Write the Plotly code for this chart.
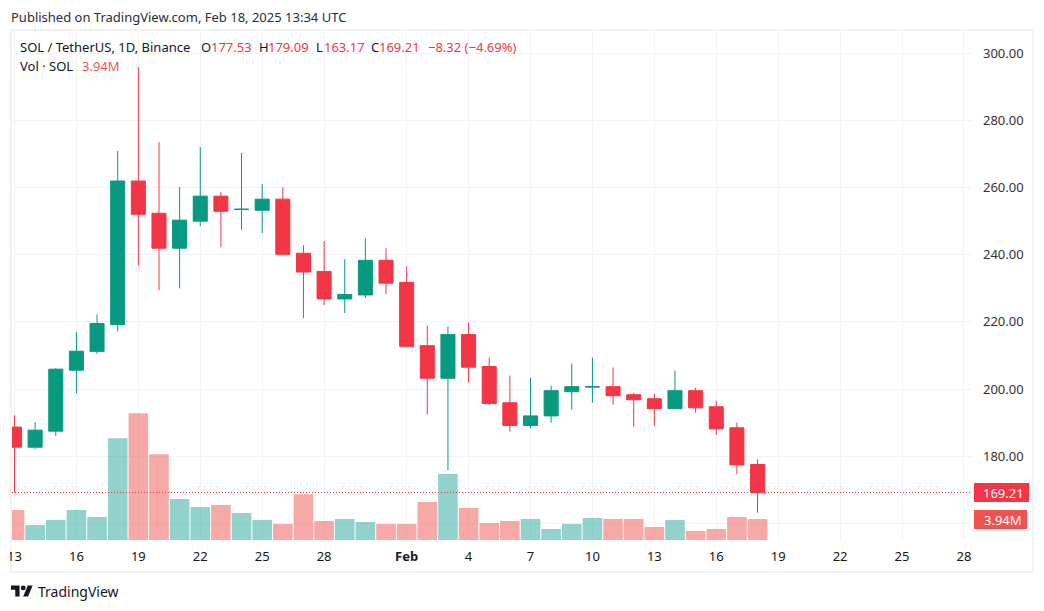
import plotly.graph_objects as go

# daily SOL/USDT candles
dates = [
    "2025-01-13", "2025-01-14", "2025-01-15", "2025-01-16", "2025-01-17", "2025-01-18", "2025-01-19",
    "2025-01-20", "2025-01-21", "2025-01-22", "2025-01-23", "2025-01-24", "2025-01-25", "2025-01-26",
    "2025-01-27", "2025-01-28", "2025-01-29", "2025-01-30", "2025-01-31", "2025-02-01", "2025-02-02",
    "2025-02-03", "2025-02-04", "2025-02-05", "2025-02-06", "2025-02-07", "2025-02-08", "2025-02-09",
    "2025-02-10", "2025-02-11", "2025-02-12", "2025-02-13", "2025-02-14", "2025-02-15", "2025-02-16",
    "2025-02-17", "2025-02-18",
]
opens = [188.66, 182.69, 187.46, 205.6, 211.2, 219.2, 261.9, 252.3, 241.9, 249.95, 257.4, 253.45, 253.2,
         256.5, 240.4, 235.0, 226.8, 228.0, 238.3, 231.75, 212.9, 203.2, 216.2, 206.7, 195.9, 189.15,
         192.0, 199.2, 200.6, 200.7, 198.3, 197.1, 194.15, 199.5, 194.7, 188.45, 177.53]
highs = [192.2, 190.15, 206.3, 217.0, 222.2, 270.85, 295.8, 273.5, 260.1, 272.0, 258.6, 270.25, 261.0,
         260.1, 242.8, 244.0, 238.6, 244.9, 241.9, 236.5, 218.9, 218.6, 219.8, 209.35, 204.0, 203.4,
         201.0, 207.55, 209.35, 206.4, 198.9, 198.6, 205.5, 200.4, 196.5, 189.95, 179.09]
lows = [169.15, 182.1, 186.0, 198.75, 210.4, 217.1, 236.8, 229.35, 229.95, 248.45, 242.2, 247.3, 246.4,
        240.1, 221.1, 225.0, 222.6, 227.1, 228.25, 212.7, 192.4, 175.9, 202.0, 195.1, 187.35, 188.25,
        189.95, 193.85, 195.9, 195.3, 188.75, 189.05, 194.15, 192.95, 186.35, 174.7, 163.17]
closes = [182.69, 187.76, 205.9, 211.25, 219.5, 261.9, 252.0, 241.9, 250.25, 257.4, 252.9, 253.5, 256.5,
          240.1, 234.8, 226.8, 228.15, 238.3, 231.5, 212.7, 203.2, 216.2, 206.5, 195.7, 189.15, 192.0,
          199.5, 200.7, 200.65, 198.0, 196.8, 194.15, 199.5, 194.4, 188.15, 177.4, 169.21]
volumes = [5.63, 2.81, 3.75, 5.63, 4.31, 19.1, 23.8, 16.1, 7.69, 6.19, 6.56, 5.06, 3.75, 3.0, 8.6, 3.56,
           3.94, 3.38, 3.0, 3.0, 7.13, 12.4, 6.0, 3.19, 3.56, 3.94, 2.06, 3.0, 4.13, 3.94, 3.94, 2.44,
           3.75, 1.69, 2.06, 4.31, 3.94]

x_tick_dates = ["2025-01-13", "2025-01-16", "2025-01-19", "2025-01-22", "2025-01-25", "2025-01-28",
                "2025-02-01", "2025-02-04", "2025-02-07", "2025-02-10", "2025-02-13", "2025-02-16",
                "2025-02-19", "2025-02-22", "2025-02-25", "2025-02-28"]
x_tick_text = ["13", "16", "19", "22", "25", "28", "<b>Feb</b>", "4", "7", "10", "13", "16", "19", "22", "25", "28"]
y_tick_vals = [160, 180, 200, 220, 240, 260, 280, 300]
y_tick_text = ["", "180.00", "200.00", "220.00", "240.00", "260.00", "280.00", "300.00"]

GREEN = "#089981"
RED = "#F23645"
VOL_GREEN = "rgba(38,166,154,0.5)"
VOL_RED = "rgba(239,83,80,0.5)"
GRID = "#F3F3F3"
FONT = "Noto Sans"
W, H = 1044, 611
L, R, T, B = 12, 972, 30, 540


def px(x):
    return (x - L) / (R - L)


def py(y):
    return (B - y) / (B - T)


def label(x, y, text, color="#131722", size=13, anchor="left"):
    return dict(xref="paper", yref="paper", x=px(x), y=py(y), text=text, showarrow=False, xanchor=anchor,
                yanchor="middle", borderpad=0, borderwidth=0, font=dict(family=FONT, size=size, color=color))


vol_colors = [VOL_GREEN if c >= o else VOL_RED for o, c in zip(opens, closes)]

fig = go.Figure()
fig.add_trace(go.Bar(x=dates, y=volumes, marker=dict(color=vol_colors, line_width=0), yaxis="y", hoverinfo="skip"))
fig.add_trace(go.Candlestick(
    x=dates, open=opens, high=highs, low=lows, close=closes, yaxis="y2", whiskerwidth=0,
    increasing=dict(line=dict(color=GREEN, width=1), fillcolor=GREEN),
    decreasing=dict(line=dict(color=RED, width=1), fillcolor=RED),
))

texts = [
    label(11, 17, "Published on TradingView.com, Feb 18, 2025 13:34 UTC", "#2A2E39"),
    label(20, 47, "SOL / TetherUS, 1D, Binance"),
    label(201, 47, "O"), label(210.5, 47, f"{opens[-1]:.2f}", RED),
    label(259, 47, "H"), label(268, 47, f"{highs[-1]:.2f}", RED),
    label(316, 47, "L"), label(323.5, 47, f"{lows[-1]:.2f}", RED),
    label(371, 47, "C"), label(379, 47, f"{closes[-1]:.2f}", RED),
    label(428, 47, "\u22128.32 (\u22124.69%)", RED),
    label(20, 66, "Vol \u00b7 SOL"), label(82, 66, f"{volumes[-1]:.2f}M", "#EF5350"),
    label(1003.5, 492.5, f"{closes[-1]:.2f}", "white", anchor="center"),
    label(1003, 519.5, f"{volumes[-1]:.2f}M", "white", anchor="center"),
    label(38, 591.5, "TradingView", "#131722", 14),
]


def rect(x0, y0, x1, y1, fill, line=None, layer="above"):
    return dict(type="rect", xref="paper", yref="paper", x0=px(x0), x1=px(x1), y0=py(y0), y1=py(y1),
                fillcolor=fill, line=dict(color=line or fill, width=2 if line else 0), layer=layer)


def logo_path(points, x0=11, y0=583, scale=0.61):
    # logo outline given in its own 36 wide box
    cmds = [f"{px(x0 + a * scale)},{py(y0 + b * scale)}" for a, b in points]
    return "M" + " L".join(cmds) + " Z"


def logo_shape(path):
    return dict(type="path", xref="paper", yref="paper", path=path, fillcolor="#131722", line_width=0, layer="above")


shapes = [
    rect(11, 30, 1033, 572, "rgba(0,0,0,0)", "#F3F3F3", layer="below"),
    # dotted last price line
    dict(type="line", xref="paper", x0=0, x1=1, yref="y2", y0=closes[-1], y1=closes[-1],
         line=dict(color=RED, width=1, dash="1px,2px")),
    # clips the first date label like the pane edge does
    rect(0, 541, 10, 571, "white"),
    rect(974, 483, 1029, 502, RED),
    rect(974, 510, 1027, 529, "#EF5350"),
    logo_shape(logo_path([(14, 22), (7, 22), (7, 11), (0, 11), (0, 4), (14, 4)])),
    logo_shape(logo_path([(28, 22), (20, 22), (27.5, 4), (35.5, 4)])),
    dict(type="circle", xref="paper", yref="paper", x0=px(11 + 16 * 0.61), x1=px(11 + 24 * 0.61),
         y0=py(583 + 4 * 0.61), y1=py(583 + 12 * 0.61), fillcolor="#131722", line_width=0, layer="above"),
]

fig.update_layout(
    width=W, height=H, margin=dict(l=L, r=W - R, t=T, b=H - B, autoexpand=False), paper_bgcolor="white",
    plot_bgcolor="white", showlegend=False, bargap=0.05, boxgap=0.32, boxgroupgap=0,
    font=dict(family=FONT, size=13, color="#131722"), annotations=texts, shapes=shapes,
    xaxis=dict(type="date", range=["2025-01-12 21:06", "2025-02-28 09:22"], tickmode="array", tickvals=x_tick_dates,
               ticktext=x_tick_text, showgrid=True, gridcolor=GRID, gridwidth=1, showline=False, zeroline=False,
               ticks="", ticklabelstandoff=7, rangeslider=dict(visible=False), tickangle=0),
    yaxis=dict(range=[0, 95.7], visible=False, showgrid=False, fixedrange=True),
    yaxis2=dict(overlaying="y", side="right", range=[155.06, 306.85], tickmode="array", tickvals=y_tick_vals,
                ticktext=y_tick_text, showgrid=True, gridcolor=GRID, gridwidth=1, showline=False, zeroline=False,
                ticks="", ticklabelstandoff=10, tickfont=dict(color="#333333")),
)

fig.write_html("out.html", post_script="document.body.style.margin='0';", config=dict(displayModeBar=False))
